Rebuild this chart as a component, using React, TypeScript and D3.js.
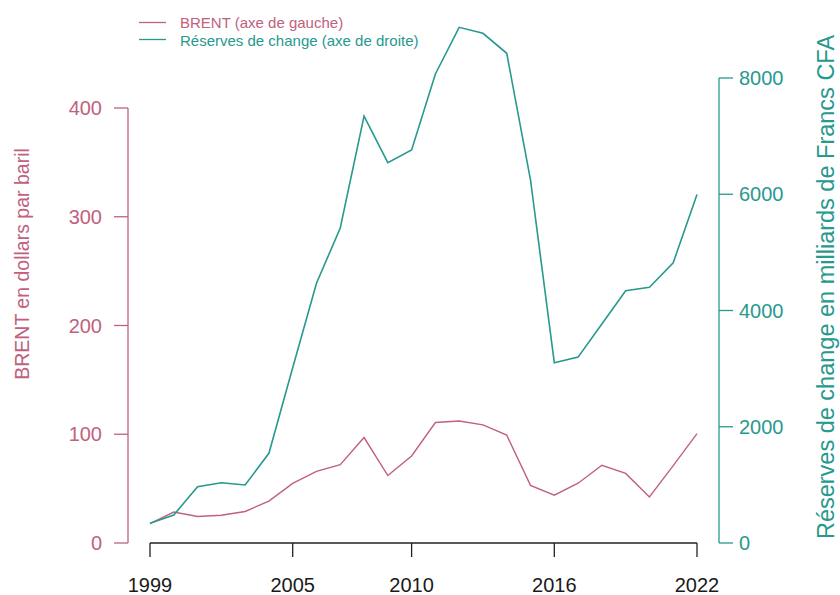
import React from "react";
import * as d3 from "d3";

const years = [1999, 2000, 2001, 2002, 2003, 2004, 2005, 2006, 2007, 2008, 2009, 2010, 2011, 2012, 2013, 2014, 2015, 2016, 2017, 2018, 2019, 2020, 2021, 2022];
const brent = [17.9, 28.5, 24.4, 25.5, 29.0, 38.5, 54.8, 65.8, 72.0, 97.0, 62.0, 80.0, 110.8, 112.2, 108.6, 99.2, 53.0, 44.0, 55.0, 71.5, 64.0, 42.4, 71.2, 100.5];
const reserves = [339, 482, 969, 1037, 998, 1543, 3014, 4468, 5420, 7346, 6543, 6761, 8070, 8872, 8769, 8425, 6245, 3102, 3198, 3768, 4341, 4399, 4822, 5995];
const xTicks = [1999, 2005, 2010, 2016, 2022];
const leftTicks = [0, 100, 200, 300, 400];
const rightTicks = [0, 2000, 4000, 6000, 8000];

const BRENT_COLOR = "#c0617d";
const RES_COLOR = "#27998e";
const FONT = "'Liberation Sans', Arial, sans-serif";

export default function App() {
  const x = d3.scaleLinear().domain([1999, 2022]).range([150, 697]);
  const yL = d3.scaleLinear().domain([0, 400]).range([543, 108]);
  const yR = d3.scaleLinear().domain([0, 8000]).range([543, 78]);

  const lineL = d3.line<number>().x((_, i) => x(years[i])).y((d) => yL(d));
  const lineR = d3.line<number>().x((_, i) => x(years[i])).y((d) => yR(d));

  return (
    <svg
      width={840}
      height={595}
      style={{ position: "absolute", left: 0, top: 0, background: "#fff" }}
      fontFamily={FONT}
    >
      <rect width={840} height={595} fill="#fff" />
      {/* lines */}
      <path d={lineL(brent) || ""} fill="none" stroke={BRENT_COLOR} strokeWidth={1.4} />
      <path d={lineR(reserves) || ""} fill="none" stroke={RES_COLOR} strokeWidth={1.6} />

      {/* x axis */}
      <line x1={x(1999)} x2={x(2022)} y1={543} y2={543} stroke="#222" strokeWidth={1.3} />
      {xTicks.map((t) => (
        <g key={t}>
          <line x1={x(t)} x2={x(t)} y1={543} y2={557} stroke="#222" strokeWidth={1.3} />
          <text x={x(t)} y={592} textAnchor="middle" fontSize={20} fill="#1a1a1a">
            {t}
          </text>
        </g>
      ))}

      {/* left axis */}
      <line x1={128} x2={128} y1={yL(0)} y2={yL(400)} stroke={BRENT_COLOR} strokeWidth={1.3} />
      {leftTicks.map((t) => (
        <g key={t}>
          <line x1={114} x2={128} y1={yL(t)} y2={yL(t)} stroke={BRENT_COLOR} strokeWidth={1.3} />
          <text x={102} y={yL(t)} dy="0.36em" textAnchor="end" fontSize={20} fill={BRENT_COLOR}>
            {t}
          </text>
        </g>
      ))}
      <text
        transform={`translate(29, 264) rotate(-90)`}
        textAnchor="middle"
        fontSize={19.5}
        fill={BRENT_COLOR}
      >
        BRENT en dollars par baril
      </text>

      {/* right axis */}
      <line x1={719} x2={719} y1={yR(0)} y2={yR(8000)} stroke={RES_COLOR} strokeWidth={1.3} />
      {rightTicks.map((t) => (
        <g key={t}>
          <line x1={719} x2={733} y1={yR(t)} y2={yR(t)} stroke={RES_COLOR} strokeWidth={1.3} />
          <text x={739} y={yR(t)} dy="0.36em" textAnchor="start" fontSize={20} fill={RES_COLOR}>
            {t}
          </text>
        </g>
      ))}
      <text
        transform={`translate(834, 287) rotate(-90)`}
        textAnchor="middle"
        fontSize={23.5}
        fill={RES_COLOR}
      >
        Réserves de change en milliards de Francs CFA
      </text>

      {/* legend */}
      <line x1={139} x2={166} y1={22.5} y2={22.5} stroke={BRENT_COLOR} strokeWidth={1.3} />
      <text x={180} y={23} dy="0.36em" fontSize={15} fill={BRENT_COLOR}>
        BRENT (axe de gauche)
      </text>
      <line x1={139} x2={166} y1={39.5} y2={39.5} stroke={RES_COLOR} strokeWidth={1.3} />
      <text x={180} y={41} dy="0.36em" fontSize={15} fill={RES_COLOR}>
        Réserves de change (axe de droite)
      </text>
    </svg>
  );
}
